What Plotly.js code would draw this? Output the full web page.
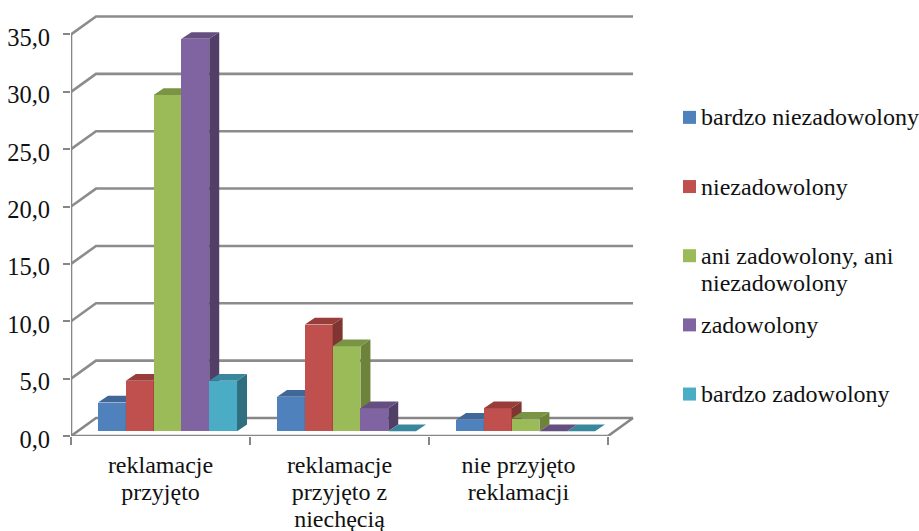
<!DOCTYPE html>
<html>
<head>
<meta charset="utf-8">
<script src="https://cdn.plot.ly/plotly-3.0.1.min.js"></script>
<style>html,body{margin:0;padding:0;background:#fff}</style>
</head>
<body>
<div id="chart" style="width:919px;height:531px"></div>
<script>
// Data
const categories = ["reklamacje<br>przyjęto", "reklamacje<br>przyjęto z<br>niechęcią", "nie przyjęto<br>reklamacji"];
const seriesNames = ["bardzo niezadowolony", "niezadowolony", "ani zadowolony, ani<br>niezadowolony", "zadowolony", "bardzo zadowolony"];
const bardzoNiezadowolony = [2.5, 3.0, 1.0];
const niezadowolony = [4.4, 9.3, 2.0];
const aniAni = [29.3, 7.4, 1.1];
const zadowolony = [34.2, 2.0, 0];
const bardzoZadowolony = [4.4, 0, 0];
const yTicks = [0, 5, 10, 15, 20, 25, 30, 35];

// Styles
const frontColors = ["#4F81BD", "#C0504D", "#9BBB59", "#8064A2", "#4BACC6"];
const topColors = ["#3F6797", "#983D3A", "#7A9445", "#654F81", "#39879D"];
const sideColors = ["#375A84", "#7F3532", "#6C8339", "#523F68", "#2F6F80"];
const grey = "#868686";
const font = "Liberation Serif, Times New Roman, serif";
const ink = "#111";
const labelSize = 24, lineGapPx = 27.2;

// Pixel geometry turned into axis units
const pxL = 71, pxR = 635, pxT = 14, pxB = 436.5, W = 919, H = 531;
const pxPerCat = 179, pxPerUnit = 11.486;
const xMax = (pxR - pxL) / pxPerCat, yMax = (pxB - pxT) / pxPerUnit;
const wallDx = 25 / pxPerCat, wallDy = 18 / pxPerUnit;
const barDx = 10 / pxPerCat, barDy = 6.7 / pxPerUnit;
const barBase = 4.8 / pxPerUnit, barLead = 0.151, barW = 27.8 / pxPerCat;
const allSeries = [bardzoNiezadowolony, niezadowolony, aniAni, zadowolony, bardzoZadowolony];

const traces = [];
const line = {color: grey, width: 2.6};
// Floor, wall and gridlines
yTicks.forEach(v => traces.push({
  type: "scatter", mode: "lines", x: [0, wallDx, 3 + wallDx], y: [v, v + wallDy, v + wallDy],
  line: Object.assign({}, line, v === 0 ? {} : {color: "#8c8c8c"}), cliponaxis: false, showlegend: false, hoverinfo: "skip"
}));
traces.push({type: "scatter", mode: "lines", x: [0, 0, 3, 3 + wallDx], y: [yTicks[yTicks.length - 1], 0, 0, wallDy],
  line: line, cliponaxis: false, showlegend: false, hoverinfo: "skip"});

// Bars: each series on its own overlay axes so that later series paint over earlier ones
allSeries.forEach((vals, s) => {
  const n = s + 2, xa = "x" + n, ya = "y" + n;
  const lefts = vals.map((_, c) => c + barLead + s * barW);
  traces.push({
    type: "bar", name: seriesNames[s].replace("<br>", " "), x: lefts.map(l => l + barW / 2), y: vals,
    base: vals.map(() => barBase), width: vals.map(() => barW),
    marker: {color: frontColors[s], line: {width: 0}}, xaxis: xa, yaxis: ya, showlegend: false
  });
  vals.forEach((v, c) => {
    const l = lefts[c], r = l + barW, t = barBase + v, b = barBase;
    traces.push({type: "scatter", mode: "lines", fill: "toself", fillcolor: sideColors[s], line: {width: 0},
      x: [r, r + barDx, r + barDx, r, r], y: [b, b + barDy, t + barDy, t, b],
      xaxis: xa, yaxis: ya, showlegend: false, hoverinfo: "skip"});
    traces.push({type: "scatter", mode: "lines", fill: "toself", fillcolor: topColors[s], line: {width: 0},
      x: [l, l + barDx, r + barDx, r, l], y: [t, t + barDy, t + barDy, t, t],
      xaxis: xa, yaxis: ya, showlegend: false, hoverinfo: "skip"});
  });
});

// Key, drawn on its own axes
const keyFirst = 117.5, keyStep = 69.25, keyLeft = 640;
const keyRanks = seriesNames.map((_, i) => i);
const keySwatchX = 689.5, keyTextX = 699.5;
traces.push({type: "scatter", mode: "markers", x: keyRanks.map(() => keySwatchX), y: keyRanks,
  marker: {symbol: "square", size: 13, color: frontColors, line: {width: 0}},
  xaxis: "x7", yaxis: "y7", showlegend: false, hoverinfo: "skip", cliponaxis: false});

const plotW = W - pxL;
const layout = {
  width: W, height: H, autosize: false, showlegend: false,
  margin: {l: pxL, r: 0, t: pxT, b: H - pxB, pad: 0},
  paper_bgcolor: "#fff", plot_bgcolor: "rgba(0,0,0,0)",
  separators: ",.", barmode: "overlay", bargap: 0,
  font: {family: font, size: labelSize, color: ink},
  xaxis: {
    domain: [0, (pxR - pxL) / plotW], range: [0, xMax], type: "linear", showgrid: false, zeroline: false, showline: false,
    tickmode: "array", tickvals: categories.map((_, i) => i + 0.5), ticktext: categories,
    ticks: "outside", ticklen: 0, tickwidth: 0, tickcolor: "rgba(0,0,0,0)", ticklabelstandoff: 7,
    tickfont: {family: font, size: labelSize, color: ink},
    minor: {tickmode: "array", tickvals: [0, 1, 2, 3], ticks: "outside", ticklen: 8, tickwidth: 2, tickcolor: grey, showgrid: false},
    fixedrange: true, automargin: false
  },
  yaxis: {
    range: [0, yMax], showgrid: false, zeroline: false, showline: false, tickmode: "array", tickvals: yTicks,
    ticktext: yTicks.map(v => v.toFixed(1).replace(".", ",")),
    ticks: "outside", ticklen: 7, tickwidth: 2, tickcolor: grey, ticklabelstandoff: 8, ticklabelshift: 3,
    tickfont: {family: font, size: 24.5, color: ink}, fixedrange: true, automargin: false
  },
  xaxis7: {domain: [(keyLeft - pxL) / plotW, 1], range: [keyLeft, W], visible: false, fixedrange: true, anchor: "y7"},
  yaxis7: {range: [(pxB - keyFirst) / keyStep, (pxT - keyFirst) / keyStep], visible: false, fixedrange: true, anchor: "x7"},
  annotations: seriesNames.map((t, i) => ({
    text: t, xref: "x7", yref: "y7", x: keyTextX, y: keyRanks[i], xanchor: "left", yanchor: "top", yshift: 14,
    align: "left", showarrow: false, borderpad: 0, font: {family: font, size: labelSize, color: ink}
  }))
};
for (let n = 2; n <= 6; n++) {
  layout["xaxis" + n] = {overlaying: "x", anchor: "y" + n, range: [0, xMax], visible: false, fixedrange: true};
  layout["yaxis" + n] = {overlaying: "y", anchor: "x" + n, range: [0, yMax], visible: false, fixedrange: true};
}
Plotly.newPlot("chart", traces, layout, {displayModeBar: false, staticPlot: true}).then(() => {
  // The reference sets its multi-line labels tighter than Plotly's fixed 1.3em; each line's dy counts from the first line
  document.querySelectorAll("#chart tspan.line").forEach(t => {
    const dy = parseFloat(t.getAttribute("dy"));
    if (dy) t.setAttribute("dy", (dy / 1.3 * lineGapPx) + "px");
  });
});
</script>
</body>
</html>
